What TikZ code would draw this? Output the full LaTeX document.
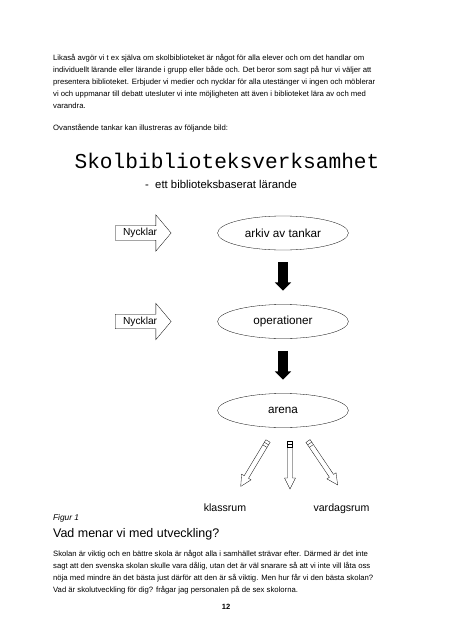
\documentclass[tikz,border=0pt]{standalone}
\usepackage{fontspec}
\setmainfont{Liberation Sans}
\setmonofont{Liberation Mono}
\usetikzlibrary{shapes.geometric,shapes.arrows,arrows.meta}
\tikzset{every path/.style={thin}, every node/.style={inner sep=0pt}}
\tikzset{bodytext/.style={anchor=base west, font=\fontsize{10.2}{12}\selectfont},
  idea/.style={draw, ellipse, minimum width=173pt, minimum height=45pt, font=\fontsize{15.5}{18}\selectfont},
  key/.style={draw, single arrow, anchor=tail, single arrow head extend=14.5pt, single arrow tip angle=100,
    inner xsep=3pt, inner ysep=3pt, minimum height=74pt, font=\fontsize{13.5}{16}\selectfont},
  flow/.style={line width=12pt, -{Triangle[length=11pt,width=21pt]}, shorten <=16pt, shorten >=18pt},
  place/.style={anchor=base, font=\fontsize{14}{16}\selectfont}}

\begin{document}
\begin{tikzpicture}[x=0.0465cm, y=-0.0465cm]
  \useasboundingbox (0,0) rectangle (452,640);
  % text before the figure
  \node[bodytext] (l1) at (53, 60.5) {Likaså avgör vi t ex själva om skolbiblioteket är något för alla elever och om det handlar om};
  \node[bodytext] (l2) at (53, 72.5) {individuellt lärande eller lärande i grupp eller både och. Det beror som sagt på hur vi väljer att};
  \node[bodytext] (l3) at (53, 84.5) {presentera biblioteket. Erbjuder vi medier och nycklar för alla utestänger vi ingen och möblerar};
  \node[bodytext] (l4) at (53, 96.5) {vi och uppmanar till debatt utesluter vi inte möjligheten att även i biblioteket lära av och med};
  \node[bodytext] (l5) at (53,108.5) {varandra.};
  \node[bodytext] (l6) at (53,130.5) {Ovanstående tankar kan illustreras av följande bild:};

  % the figure
  \node[anchor=base, font=\fontsize{28}{30}\ttfamily] (title) at (227,168) {Skolbiblioteksverksamhet};
  \node[anchor=base west, font=\fontsize{15}{18}\selectfont] (sub) at (145,188) {-\ \ ett biblioteksbaserat lärande};

  \node[key] (keyA) at (115,233) {Nycklar};
  \node[key] (keyB) at (115,321.5) {Nycklar};
  \node[idea] (arkiv) at (283,233) {arkiv av tankar};
  \node[idea] (oper) at (283,321.5) {operationer};
  \node[idea] (arena) at (283,410.5) {arena};
  \draw[flow] (arkiv) -- (oper);
  \draw[flow] (oper) -- (arena);

  % pencils
  \foreach \xa/\ya/\ang/\len in {268/441/-31/53, 290/441/0/48, 308/441/34/53}{
    \begin{scope}[shift={(\xa,\ya)}, rotate=\ang]
      \draw (-2.5,0) rectangle (2.5,6);
      \draw (-2.5,3) -- (2.5,3);
      \draw (-2.5,6) -- (-2.5,\len-11) -- (-5.5,\len-11) -- (0,\len) -- (5.5,\len-11) -- (2.5,\len-11) -- (2.5,6);
    \end{scope}
  }
  \node[place] (klass) at (225,511) {klassrum};
  \node[place] (vardag) at (341.5,511) {vardagsrum};

  % text after the figure
  \node[anchor=base west, font=\fontsize{11}{13}\itshape] (fig) at (53,520.5) {Figur 1};
  \node[anchor=base west, font=\fontsize{16.5}{19}\selectfont] (head) at (53,537) {Vad menar vi med utveckling?};
  \node[bodytext] (m1) at (53,556) {Skolan är viktig och en bättre skola är något alla i samhället strävar efter. Därmed är det inte};
  \node[bodytext] (m2) at (53,568) {sagt att den svenska skolan skulle vara dålig, utan det är väl snarare så att vi inte vill låta oss};
  \node[bodytext] (m3) at (53,580) {nöja med mindre än det bästa just därför att den är så viktig. Men hur får vi den bästa skolan?};
  \node[bodytext] (m4) at (53,592) {Vad är skolutveckling för dig? frågar jag personalen på de sex skolorna.};
  \node[anchor=base, font=\fontsize{10}{12}\bfseries] (page) at (226,609) {12};
\end{tikzpicture}
\end{document}
